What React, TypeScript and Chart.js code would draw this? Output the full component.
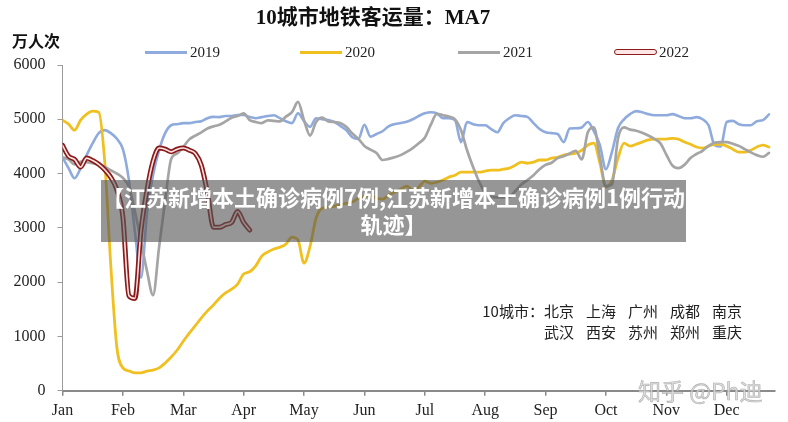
import React, { useEffect, useRef } from 'react';
import { Chart, registerables } from 'chart.js';

Chart.register(...registerables);

// x axis: months (0 = Jan 1), samples every 0.1 month
const MONTHS = ['Jan', 'Feb', 'Mar', 'Apr', 'May', 'Jun', 'Jul', 'Aug', 'Sep', 'Oct', 'Nov', 'Dec'];
const STEP = 0.1;
const X_MAX = 11.8;
const Y_TICKS = [0, 1000, 2000, 3000, 4000, 5000, 6000];

const SERIES_NAMES = ['2019', '2020', '2021', '2022'];

// 10-city metro ridership, 7-day average (10k trips)
const V2019 = [
  4300, 4100, 3915, 4100, 4340, 4560, 4745, 4800, 4745, 4640,
  4450, 3880, 2920, 2080, 3270, 3975, 4430, 4745, 4890, 4910,
  4930, 4930, 4950, 4965, 5020, 5045, 5040, 5060, 5060, 5080,
  5080, 5040, 5020, 5040, 5060, 5075, 5020, 4965, 4930, 5110,
  4965, 4860, 5020, 5000, 4985, 4950, 4880, 4800, 4670, 4640,
  4900, 4680, 4730, 4780, 4870, 4910, 4930, 4955, 5000, 5060,
  5110, 5130, 5110, 5020, 5020, 4985, 4580, 4950, 4910, 4890,
  4890, 4820, 4760, 4930, 5020, 5075, 5060, 5045, 4930, 4820,
  4760, 4745, 4730, 4580, 4830, 4835, 4850, 4950, 4780, 4525,
  4080, 4400, 4835, 5000, 5095, 5150, 5130, 5095, 5075, 5075,
  5075, 5095, 5060, 5020, 5020, 5040, 5000, 4890, 4525, 4500,
  4950, 4970, 4910, 4890, 4890, 4965, 4985, 5090,
];

const V2020 = [
  4985, 4910, 4800, 4985, 5095, 5150, 5130, 4210, 2300, 800,
  420, 365, 330, 330, 360, 380, 420, 510, 620, 750,
  910, 1060, 1200, 1340, 1470, 1580, 1705, 1800, 1870, 1965,
  2150, 2190, 2300, 2480, 2555, 2610, 2645, 2700, 2830, 2775,
  2350, 2660, 3180, 3360, 3380, 3400, 3420, 3455, 3475, 3545,
  3580, 3600, 3545, 3530, 3600, 3660, 3715, 3770, 3695, 3750,
  3860, 3820, 3840, 3880, 3935, 3970, 4025, 4025, 4025, 4025,
  4045, 4065, 4065, 4080, 4100, 4155, 4210, 4190, 4210, 4250,
  4250, 4285, 4300, 4340, 4360, 4375, 4430, 4525, 4560, 4190,
  3750, 3880, 4285, 4560, 4505, 4540, 4580, 4620, 4635, 4635,
  4635, 4650, 4635, 4580, 4540, 4490, 4470, 4505, 4540, 4540,
  4505, 4450, 4395, 4395, 4430, 4490, 4525, 4490,
];

const V2021 = [
  4300, 4260, 4170, 4220, 4210, 4190, 4160, 4120, 4060, 4000,
  3920, 3750, 3300, 2750, 2200, 1760, 2650, 3500, 4270, 4370,
  4490, 4630, 4700, 4760, 4830, 4870, 4900, 4960, 5030, 5060,
  5110, 4985, 4950, 4930, 4980, 4970, 4960, 5050, 5130, 5320,
  4980, 4700, 4950, 5030, 4960, 4950, 4930, 4860, 4740, 4640,
  4510, 4440, 4380, 4250, 4270, 4300, 4340, 4400, 4470, 4560,
  4660, 4900, 5100, 5075, 5050, 5000, 4800, 4430, 4120, 3850,
  3640, 3570, 3560, 3560, 3570, 3680, 3800, 3880, 3970, 4080,
  4160, 4200, 4285, 4320, 4370, 4420, 4260, 4760, 4850, 4300,
  3770, 3800, 4650, 4850, 4810, 4790, 4750, 4700, 4640, 4560,
  4350, 4150, 4100, 4160, 4285, 4360, 4420, 4510, 4570, 4580,
  4580, 4550, 4510, 4450, 4390, 4340, 4310, 4380,
];

const V2022 = [
  4520, 4320, 4260, 4120, 4285, 4240, 4170, 4070, 3930, 3700,
  3200, 1750, 1700, 2950, 3700, 4230, 4470, 4450, 4400, 4450,
  4470, 4430, 4370, 4150, 3650, 3010, 3010, 3060, 3100, 3300,
  3100, 2960,
];

const CITIES_1 = ['北京', '上海', '广州', '成都', '南京'];
const CITIES_2 = ['武汉', '西安', '苏州', '郑州', '重庆'];

const C2019 = '#8FAADC';
const C2020 = '#F0C020';
const C2021 = '#A5A5A5';
const C2022 = '#8B1A1A';
const C2022_IN = '#FCE6E6';

const toPoints = (arr: number[]) => arr.map((y, i) => ({ x: Math.round(i * STEP * 10) / 10, y }));

export default function App() {
  const ref = useRef<HTMLCanvasElement>(null);

  useEffect(() => {
    if (!ref.current) return;
    const chart = new Chart(ref.current, {
      type: 'line',
      data: {
        datasets: [
          { label: '2022', data: toPoints(V2022), borderColor: C2022_IN, borderWidth: 1.6, order: 0 },
          { label: '2022 outline', data: toPoints(V2022), borderColor: C2022, borderWidth: 5, order: 1 },
          { label: '2021', data: toPoints(V2021), borderColor: C2021, borderWidth: 2.7, order: 2 },
          { label: '2020', data: toPoints(V2020), borderColor: C2020, borderWidth: 2.8, order: 3 },
          { label: '2019', data: toPoints(V2019), borderColor: C2019, borderWidth: 2.6, order: 4 },
        ] as any,
      },
      options: {
        animation: false,
        responsive: false,
        devicePixelRatio: 1,
        layout: { padding: { top: 65, right: 13, left: 0, bottom: 0 } },
        elements: {
          point: { radius: 0 },
          line: { cubicInterpolationMode: 'monotone', borderCapStyle: 'round', borderJoinStyle: 'round', fill: false },
        },
        plugins: {
          legend: { display: false },
          title: { display: false },
          tooltip: { enabled: false },
        },
        scales: {
          x: {
            type: 'linear',
            min: 0,
            max: X_MAX,
            afterBuildTicks: (s: any) => {
              s.ticks = MONTHS.map((_, i) => ({ value: i }));
            },
            afterFit: (s: any) => {
              s.height = 31.3;
            },
            ticks: {
              autoSkip: false,
              maxRotation: 0,
              padding: 5,
              color: '#222',
              font: { family: '"Liberation Serif", serif', size: 16 },
              callback: (v: any) => MONTHS[Math.round(Number(v))] ?? '',
            },
            grid: { display: true, drawOnChartArea: false, drawTicks: true, tickLength: 5, color: '#8a8a8a', lineWidth: 1.5 },
            border: { display: true, color: '#8a8a8a', width: 2 },
          },
          y: {
            min: 0,
            max: 6000,
            afterBuildTicks: (s: any) => {
              s.ticks = Y_TICKS.map((v) => ({ value: v }));
            },
            afterFit: (s: any) => {
              s.width = 62.5;
            },
            ticks: {
              padding: 12,
              color: '#222',
              font: { family: '"Liberation Serif", serif', size: 16 },
              callback: (v: any) => String(v),
            },
            grid: { display: true, drawOnChartArea: false, drawTicks: true, tickLength: 5, color: '#9a9a9a', lineWidth: 1 },
            border: { display: true, color: '#9a9a9a', width: 1 },
          },
        },
      } as any,
    });
    return () => chart.destroy();
  }, []);

  const legendPos = [145, 300, 458, 614];
  const legendColors = [C2019, C2020, C2021, C2022];

  return (
    <div style={{ position: 'absolute', left: 0, top: 0, width: 788, height: 422, background: '#fff', overflow: 'hidden' }}>
      <canvas ref={ref} width={788} height={422} style={{ position: 'absolute', left: 0, top: 0, width: 788, height: 422 }} />

      <div
        style={{
          position: 'absolute', left: 373, top: 5, transform: 'translateX(-50%)', whiteSpace: 'nowrap',
          font: 'bold 21px "Liberation Serif", "Noto Sans CJK SC", serif', color: '#111', lineHeight: '24px',
        }}
      >
        10城市地铁客运量：MA7
      </div>

      <div style={{ position: 'absolute', left: 12, top: 31, font: 'bold 16px "Noto Sans CJK SC", sans-serif', color: '#111', lineHeight: '18px' }}>
        万人次
      </div>

      {SERIES_NAMES.map((name, i) => (
        <React.Fragment key={name}>
          {i < 3 ? (
            <div style={{ position: 'absolute', left: legendPos[i], top: 50.5, width: 42, height: 3, background: legendColors[i] }} />
          ) : (
            <div
              style={{
                position: 'absolute', left: legendPos[i], top: 49, width: 41, height: 4, background: C2022_IN,
                border: `1.2px solid ${C2022}`, borderRadius: 3,
              }}
            />
          )}
          <div
            style={{
              position: 'absolute', left: legendPos[i] + 45, top: 43.5, font: '15px "Liberation Serif", serif', color: '#222',
              lineHeight: '17px', whiteSpace: 'nowrap',
            }}
          >
            {name}
          </div>
        </React.Fragment>
      ))}

      <div
        style={{
          position: 'absolute', right: 46, top: 300, textAlign: 'right', font: '15px "Noto Sans CJK SC", sans-serif',
          color: '#222', lineHeight: '21px', whiteSpace: 'nowrap',
        }}
      >
        <div>
          10城市：
          {CITIES_1.map((c, i) => (
            <span key={c} style={{ marginLeft: i === 0 ? 0 : 12 }}>{c}</span>
          ))}
        </div>
        <div>
          {CITIES_2.map((c, i) => (
            <span key={c} style={{ marginLeft: i === 0 ? 0 : 12 }}>{c}</span>
          ))}
        </div>
      </div>

      <div
        style={{
          position: 'absolute', left: 101, top: 180, width: 585, height: 62, background: 'rgba(85,85,85,0.62)',
          color: '#fff', font: 'bold 22px "Noto Sans CJK SC", sans-serif', lineHeight: '27px', textAlign: 'center',
          paddingTop: 3, boxSizing: 'border-box', whiteSpace: 'nowrap',
        }}
      >
        <div>【江苏新增本土确诊病例7例,江苏新增本土确诊病例1例行动</div>
        <div>轨迹】</div>
      </div>

      <div
        style={{
          position: 'absolute', left: 638, top: 376, font: '23px "Noto Sans CJK SC", sans-serif', color: 'rgba(215,215,215,0.85)',
          WebkitTextStroke: '0.6px rgba(160,160,160,0.8)', whiteSpace: 'nowrap', lineHeight: '28px',
        }}
      >
        知乎 @Ph迪
      </div>
    </div>
  );
}
